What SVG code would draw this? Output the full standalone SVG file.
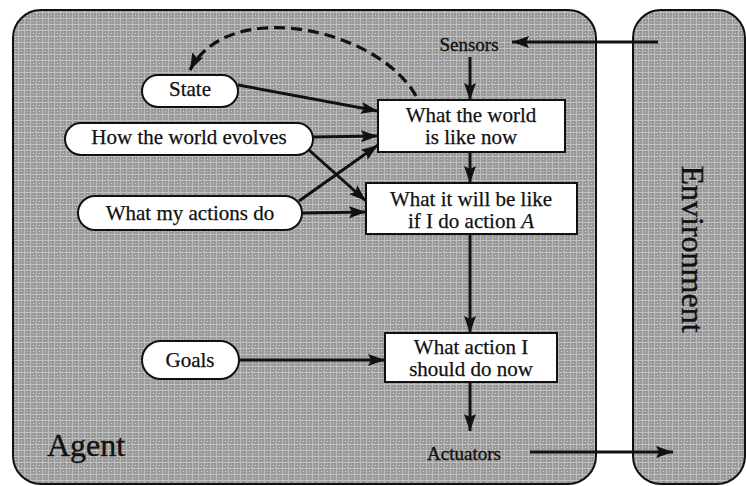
<svg xmlns="http://www.w3.org/2000/svg" width="746" height="486" viewBox="0 0 746 486">
  <style>
    .panel { fill: url(#screen); stroke: #111; stroke-width: 2; }
    .pill, .box { fill: #fff; stroke: #111; stroke-width: 2; }
    .lbl { font-family: "Liberation Serif", "Times New Roman", serif; font-size: 21px; fill: #111; text-anchor: middle; stroke: #111; stroke-width: 0.25; }
    .port { font-family: "Liberation Serif", "Times New Roman", serif; font-size: 19px; fill: #111; text-anchor: middle; stroke: #111; stroke-width: 0.35; }
    .big { font-family: "Liberation Serif", "Times New Roman", serif; font-size: 32px; fill: #111; stroke: #111; stroke-width: 0.4; }
    .wire { fill: none; stroke: #111; stroke-width: 3; marker-end: url(#head); }
    .dash { fill: none; stroke: #111; stroke-width: 3.2; stroke-dasharray: 11 6; marker-end: url(#head); }
  </style>
  <defs>
    <!-- halftone-like grey screen used for the two panels -->
    <pattern id="screen" width="6" height="6" patternUnits="userSpaceOnUse">
      <rect width="6" height="6" fill="#9a9a9a"/>
      <rect y="0" width="6" height="1" fill="#c4c4c4"/>
      <rect x="0" width="1" height="6" fill="#bdbdbd"/>
      <rect x="3" y="3" width="1" height="1" fill="#d0d0d0"/>
      <rect x="4" y="1" width="1" height="1" fill="#858585"/>
    </pattern>
    <marker id="head" markerUnits="userSpaceOnUse" markerWidth="18" markerHeight="12" refX="17" refY="6" orient="auto">
      <path d="M0,0 L17,6 L0,12 L3,6 z" fill="#111"/>
    </marker>
  </defs>

  <!-- panels -->
  <g id="agent">
    <rect class="panel" x="13" y="10" width="583" height="474" rx="28"/>
    <text class="big" x="47" y="456">Agent</text>
  </g>
  <g id="environment">
    <rect class="panel" x="633" y="10" width="112" height="474" rx="28"/>
    <text class="big" transform="translate(682,249) rotate(90)" text-anchor="middle">Environment</text>
  </g>

  <!-- ports -->
  <g id="sensors">
    <text class="port" x="469" y="51">Sensors</text>
  </g>
  <g id="actuators">
    <text class="port" x="464" y="460">Actuators</text>
  </g>

  <!-- internal state and knowledge -->
  <g id="state">
    <rect class="pill" x="142" y="75" width="96" height="32" rx="16"/>
    <text class="lbl" x="190" y="96">State</text>
  </g>
  <g id="world-evolves">
    <rect class="pill" x="65" y="123" width="248" height="32" rx="16"/>
    <text class="lbl" x="189" y="144">How the world evolves</text>
  </g>
  <g id="actions-do">
    <rect class="pill" x="78" y="196" width="224" height="34" rx="17"/>
    <text class="lbl" x="190" y="220">What my actions do</text>
  </g>
  <g id="goals">
    <rect class="pill" x="142" y="341" width="97" height="38" rx="19"/>
    <text class="lbl" x="190" y="367">Goals</text>
  </g>

  <!-- decision boxes -->
  <g id="world-now">
    <rect class="box" x="378" y="100" width="187" height="52"/>
    <text class="lbl" x="471" y="122">What the world</text>
    <text class="lbl" x="471" y="144">is like now</text>
  </g>
  <g id="world-next">
    <rect class="box" x="366" y="183" width="211" height="51"/>
    <text class="lbl" x="471" y="206">What it will be like</text>
    <text class="lbl" x="471" y="228">if I do action <tspan font-style="italic">A</tspan></text>
  </g>
  <g id="choose-action">
    <rect class="box" x="385" y="333" width="172" height="49"/>
    <text class="lbl" x="471" y="354">What action I</text>
    <text class="lbl" x="471" y="376">should do now</text>
  </g>

  <!-- connectors -->
  <g id="connectors">
    <line class="wire" x1="658" y1="42" x2="512" y2="42"/>
    <line class="wire" x1="470" y1="57" x2="470" y2="100"/>
    <line class="wire" x1="470" y1="152" x2="470" y2="183"/>
    <line class="wire" x1="470" y1="234" x2="470" y2="333"/>
    <line class="wire" x1="470" y1="382" x2="470" y2="431"/>
    <line class="wire" x1="530" y1="452" x2="673" y2="452"/>
    <line class="wire" x1="238" y1="85" x2="378" y2="111"/>
    <line class="wire" x1="313" y1="137" x2="378" y2="136"/>
    <line class="wire" x1="309" y1="150" x2="366" y2="201"/>
    <line class="wire" x1="299" y1="201" x2="378" y2="145"/>
    <line class="wire" x1="302" y1="213" x2="366" y2="212"/>
    <line class="wire" x1="239" y1="360" x2="385" y2="360"/>
    <path class="dash" d="M416,96 C378,28 228,-4 190,70"/>
  </g>
</svg>
